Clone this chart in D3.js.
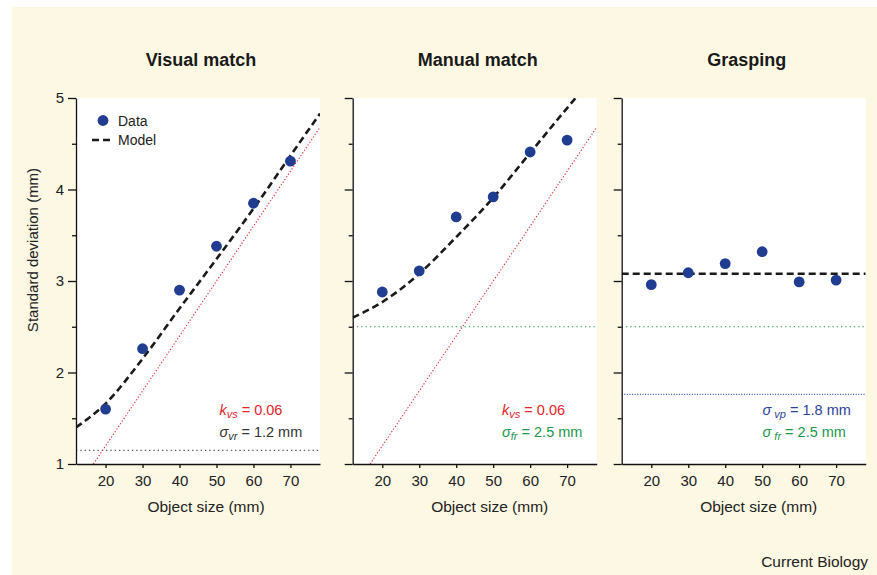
<!DOCTYPE html>
<html>
<head>
<meta charset="utf-8">
<script src="https://cdn.jsdelivr.net/npm/d3@7"></script>
<style>
  body { margin: 0; background: #fff; }
  svg { display: block; font-family: "Liberation Sans", Arial, Helvetica, sans-serif; }
</style>
</head>
<body>
<div id="chart"></div>
<script>
// values
const objectSizes = [20, 30, 40, 50, 60, 70];
const visualSD = [1.60, 2.26, 2.90, 3.38, 3.85, 4.31];
const manualSD = [2.88, 3.11, 3.70, 3.92, 4.41, 4.54];
const graspSD  = [2.96, 3.09, 3.19, 3.32, 2.99, 3.01];

const visualModelX = [12, 20, 30, 40, 50, 60, 70, 78];
const visualModel  = [1.40, 1.66, 2.15, 2.70, 3.24, 3.79, 4.37, 4.83];
const manualModelX = [12, 20, 30, 40, 50, 60, 70, 74];
const manualModel  = [2.60, 2.77, 3.08, 3.48, 3.91, 4.40, 4.89, 5.08];
const graspModelX  = [12, 78];
const graspModel   = [3.08, 3.08];

const scalarX = [16.7, 78];
const scalarY = [1.0, 4.68];

const sigmaVr = 1.15;
const sigmaFr = 2.5;
const sigmaVp = 1.76;

const xTicks = [20, 30, 40, 50, 60, 70];
const yMajor = [1, 2, 3, 4, 5];
const yMinor = [1.5, 2.5, 3.5, 4.5];

const titles = ["Visual match", "Manual match", "Grasping"];

const RED = "#e2252b", GREEN = "#22964a", BLUE = "#2c3f97", NAVY = "#213d92";

const W = 877, H = 575;
const svg = d3.select("#chart").append("svg").attr("width", W).attr("height", H);

svg.append("rect").attr("x", 12).attr("y", 7).attr("width", W - 12).attr("height", H - 7)
  .attr("fill", "#fdf8e3");

const plotW = 244;
const lefts = [76, 352.7, 621.7];
const y = d3.scaleLinear().domain([1, 5]).range([464, 98]);

const panels = [
  {
    data: visualSD, modelX: visualModelX, model: visualModel, scalar: true,
    hlines: [{ v: sigmaVr, color: "#555", dash: "1.3,3" }],
    notes: [
      { main: "k", sub: "vs", rest: " = 0.06", color: RED, italicMain: true },
      { main: "σ", sub: "vr", rest: " = 1.2 mm", color: "#333", italicMain: true }
    ],
    noteX: 50.8, legend: true, yLabels: true
  },
  {
    data: manualSD, modelX: manualModelX, model: manualModel, scalar: true,
    hlines: [{ v: sigmaFr, color: GREEN, dash: "1.3,3" }],
    notes: [
      { main: "k", sub: "vs", rest: " = 0.06", color: RED, italicMain: true },
      { main: "σ", sub: "fr", rest: " = 2.5 mm", color: GREEN, italicMain: true }
    ],
    noteX: 52.4
  },
  {
    data: graspSD, modelX: graspModelX, model: graspModel, scalar: false,
    hlines: [{ v: sigmaFr, color: GREEN, dash: "1.3,3" }, { v: sigmaVp, color: "#3350c0", dash: "1,1.6" }],
    notes: [
      { main: "σ", sub: " vp", rest: " = 1.8 mm", color: BLUE, italicMain: true },
      { main: "σ", sub: " fr", rest: " = 2.5 mm", color: GREEN, italicMain: true }
    ],
    noteX: 50.1
  }
];

panels.forEach((p, i) => {
  const left = lefts[i];
  const x = d3.scaleLinear().domain([12, 78]).range([left, left + plotW]);
  const g = svg.append("g");

  g.append("rect").attr("x", left).attr("y", y(5)).attr("width", plotW).attr("height", y(1) - y(5))
    .attr("fill", "#fff");

  const clipId = "clip" + i;
  g.append("clipPath").attr("id", clipId).append("rect")
    .attr("x", left).attr("y", y(5)).attr("width", plotW).attr("height", y(1) - y(5));
  const inner = g.append("g").attr("clip-path", `url(#${clipId})`);

  p.hlines.forEach(h => {
    inner.append("line")
      .attr("x1", left).attr("x2", left + plotW)
      .attr("y1", y(h.v)).attr("y2", y(h.v))
      .attr("stroke", h.color).attr("stroke-width", 1.2)
      .attr("stroke-dasharray", h.dash);
  });

  if (p.scalar) {
    inner.append("path")
      .datum(scalarX.map((v, k) => [v, scalarY[k]]))
      .attr("d", d3.line().x(d => x(d[0])).y(d => y(d[1])))
      .attr("fill", "none").attr("stroke", RED).attr("stroke-width", 1.1)
      .attr("stroke-dasharray", "1.2,2");
  }

  inner.append("path")
    .datum(p.modelX.map((v, k) => [v, p.model[k]]))
    .attr("d", d3.line().curve(d3.curveMonotoneX).x(d => x(d[0])).y(d => y(d[1])))
    .attr("fill", "none").attr("stroke", "#1a1a1a").attr("stroke-width", 2.6)
    .attr("stroke-dasharray", "7,4");

  g.selectAll("circle.pt")
    .data(objectSizes.map((s, k) => [s, p.data[k]]))
    .join("circle")
    .attr("class", "pt")
    .attr("cx", d => x(d[0])).attr("cy", d => y(d[1]))
    .attr("r", 5.4).attr("fill", NAVY);

  // axes
  const yAxis = d3.axisLeft(y).tickValues(yMajor).tickSize(8).tickSizeOuter(0).tickPadding(4)
    .tickFormat(p.yLabels ? d3.format("d") : () => "");
  const ya = g.append("g").attr("transform", `translate(${left},0)`).call(yAxis);
  const yMinorAxis = d3.axisLeft(y).tickValues(yMinor).tickSize(4).tickSizeOuter(0).tickFormat(() => "");
  const ym = g.append("g").attr("transform", `translate(${left},0)`).call(yMinorAxis);
  ym.select(".domain").remove();

  const xAxis = d3.axisBottom(x).tickValues(xTicks).tickSize(4).tickSizeOuter(0).tickPadding(7);
  const xa = g.append("g").attr("transform", `translate(0,${y(1)})`).call(xAxis);

  [ya, ym, xa].forEach(a => {
    a.selectAll("path, line").attr("stroke", "#111").attr("stroke-width", 1.3);
    a.selectAll("text").attr("font-size", 15).attr("fill", "#222").style("font-family", "inherit");
  });

  g.append("text")
    .attr("x", left + 125).attr("y", 66)
    .attr("text-anchor", "middle").attr("font-size", 18).attr("font-weight", "bold").attr("fill", "#1a1a1a")
    .text(titles[i]);

  g.append("text")
    .attr("x", left + (i === 0 ? 130 : 137)).attr("y", 512)
    .attr("text-anchor", "middle").attr("font-size", 15.5).attr("fill", "#222")
    .text("Object size (mm)");

  p.notes.forEach((n, k) => {
    const t = g.append("text")
      .attr("x", x(p.noteX)).attr("y", 415 + k * 21.5)
      .attr("font-size", 14.5).attr("fill", n.color);
    t.append("tspan").attr("font-style", n.italicMain ? "italic" : null).text(n.main);
    t.append("tspan").attr("font-style", "italic").attr("font-size", 11).attr("dy", 3).text(n.sub);
    t.append("tspan").attr("dy", -3).text(n.rest);
  });

  if (p.legend) {
    const lg = g.append("g");
    lg.append("circle").attr("cx", 103).attr("cy", 120.5).attr("r", 5.4).attr("fill", NAVY);
    lg.append("text").attr("x", 118).attr("y", 125.5).attr("font-size", 14).attr("fill", "#222").text("Data");
    lg.append("line").attr("x1", 92).attr("x2", 114).attr("y1", 140).attr("y2", 140)
      .attr("stroke", "#1a1a1a").attr("stroke-width", 2.6).attr("stroke-dasharray", "7,4");
    lg.append("text").attr("x", 118).attr("y", 145).attr("font-size", 14).attr("fill", "#222").text("Model");
  }
});

svg.append("text")
  .attr("transform", "translate(38,250) rotate(-90)")
  .attr("text-anchor", "middle").attr("font-size", 15).attr("fill", "#222")
  .text("Standard deviation (mm)");

svg.append("text")
  .attr("x", 868).attr("y", 567)
  .attr("text-anchor", "end").attr("font-size", 15.5).attr("fill", "#222")
  .text("Current Biology");
</script>
</body>
</html>
